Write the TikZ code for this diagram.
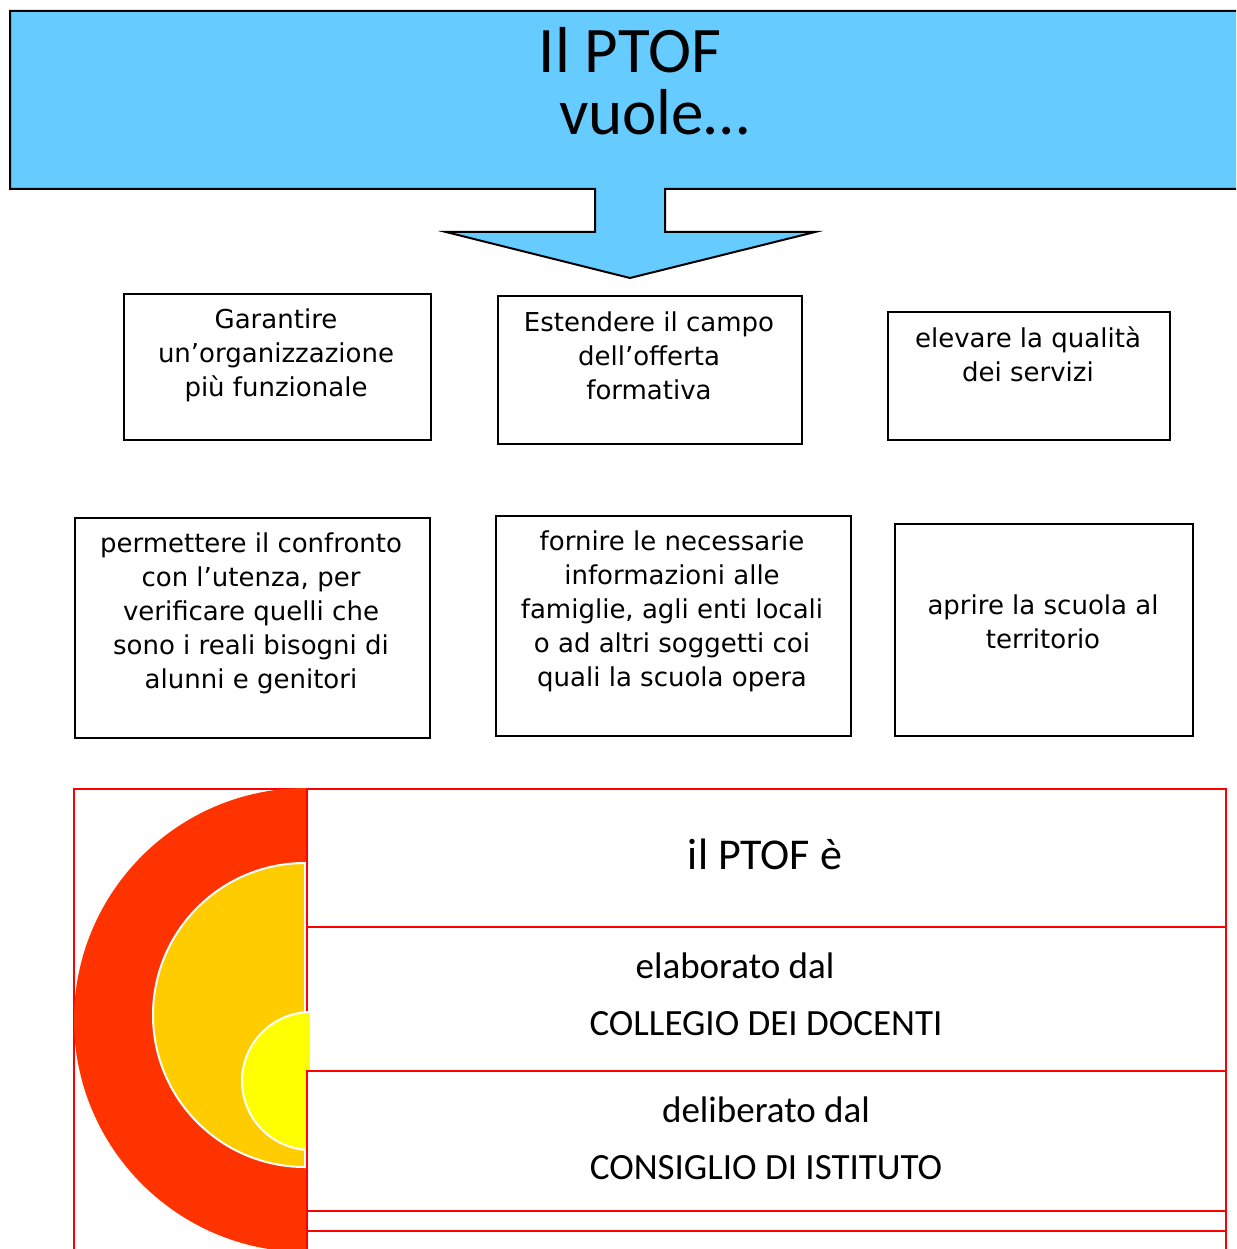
\documentclass[tikz,border=0pt]{standalone}
\usepackage{fontspec}
\setmainfont{DejaVu Sans}
\newfontfamily\calfont{Carlito}
\definecolor{skyb}{HTML}{66CCFF}
\definecolor{discred}{HTML}{FF3300}
\definecolor{discorange}{HTML}{FFCC00}
\definecolor{discyellow}{HTML}{FFFF00}
\definecolor{cellred}{HTML}{FF0000}
\begin{document}
\begin{tikzpicture}[x=1pt,y=-1pt,
  boxtxt/.style={font=\fontsize{26}{34}\selectfont, align=center, inner sep=0pt, anchor=base},
  wbox/.style={draw=black, line width=1.5pt, inner sep=0pt, anchor=north west},
  cell/.style={draw=cellred, fill=white, line width=2pt, inner sep=0pt, anchor=north west},
  bigtxt/.style={font=\calfont\fontsize{65}{65}\selectfont, inner sep=0pt, anchor=base},
  celltxt/.style={font=\calfont\fontsize{37}{37}\selectfont, inner sep=0pt, anchor=base},
  disc/.style={draw=white, line width=2pt}
]
\clip (0,0) rectangle (1236,1249);
\fill[white] (0,0) rectangle (1236,1249);

% top banner with arrow
\draw[fill=skyb, line width=2pt] (10,11) -- (1245,11) -- (1245,189) -- (665,189) -- (665,232)
  -- (815,232) -- (630,278) -- (446,232) -- (595,232) -- (595,189) -- (10,189) -- cycle;
\node[bigtxt] (title1) at (630,73) {Il PTOF};
\node[bigtxt] (title2) at (654,135) {vuole…};

% first row of boxes (anchor=base is the last line's baseline)
\node[wbox, minimum width=307pt, minimum height=146pt] (b1) at (123,293) {};
\node[boxtxt] (t1) at (276,396) {Garantire\\un’organizzazione\\più funzionale};
\node[wbox, minimum width=304pt, minimum height=148pt] (b2) at (497,295) {};
\node[boxtxt] (t2) at (649,399) {Estendere il campo\\dell’offerta\\formativa};
\node[wbox, minimum width=282pt, minimum height=128pt] (b3) at (887,311) {};
\node[boxtxt] (t3) at (1028,381) {elevare la qualità\\dei servizi};

% second row of boxes
\node[wbox, minimum width=355pt, minimum height=220pt] (b4) at (74,517) {};
\node[boxtxt] (t4) at (251,688) {permettere il confronto\\con l’utenza, per\\verificare quelli che\\sono i reali bisogni di\\alunni e genitori};
\node[wbox, minimum width=355pt, minimum height=220pt] (b5) at (495,515) {};
\node[boxtxt] (t5) at (672,686) {fornire le necessarie\\informazioni alle\\famiglie, agli enti locali\\o ad altri soggetti coi\\quali la scuola opera};
\node[wbox, minimum width=298pt, minimum height=212pt] (b6) at (894,523) {};
\node[boxtxt] (t6) at (1043,648) {aprire la scuola al\\territorio};

% bottom table
\node[draw=cellred, line width=2pt, inner sep=0pt, anchor=north west, minimum width=233pt, minimum height=480pt] (leftcol) at (73,788) {};
\fill[discred] (306,1020) ++(0,-232) arc[start angle=270, end angle=90, radius=232] -- cycle;
\filldraw[disc, fill=discorange] (305,1015) ++(0,-152) arc[start angle=270, end angle=90, radius=152] -- cycle;
\node[cell, minimum width=919pt, minimum height=138pt] (c1) at (306,788) {};
\node[cell, minimum width=919pt, minimum height=144pt] (c2) at (306,926) {};
\filldraw[disc, fill=discyellow] (311,1081) ++(0,-69) arc[start angle=270, end angle=90, radius=69] -- cycle;
\node[cell, minimum width=919pt, minimum height=140pt] (c3) at (306,1070) {};
\node[cell, minimum width=919pt, minimum height=20pt] (c4) at (306,1210) {};
\node[cell, minimum width=919pt, minimum height=40pt] (c5) at (306,1230) {};

\node[celltxt, font=\calfont\fontsize{44}{44}\selectfont] (p1) at (765,869) {il PTOF è};
\node[celltxt] (p2) at (735,978) {elaborato dal};
\node[celltxt] (p3) at (766,1035) {COLLEGIO DEI DOCENTI};
\node[celltxt] (p4) at (766,1122) {deliberato dal};
\node[celltxt] (p5) at (766,1179) {CONSIGLIO DI ISTITUTO};
\end{tikzpicture}
\end{document}
